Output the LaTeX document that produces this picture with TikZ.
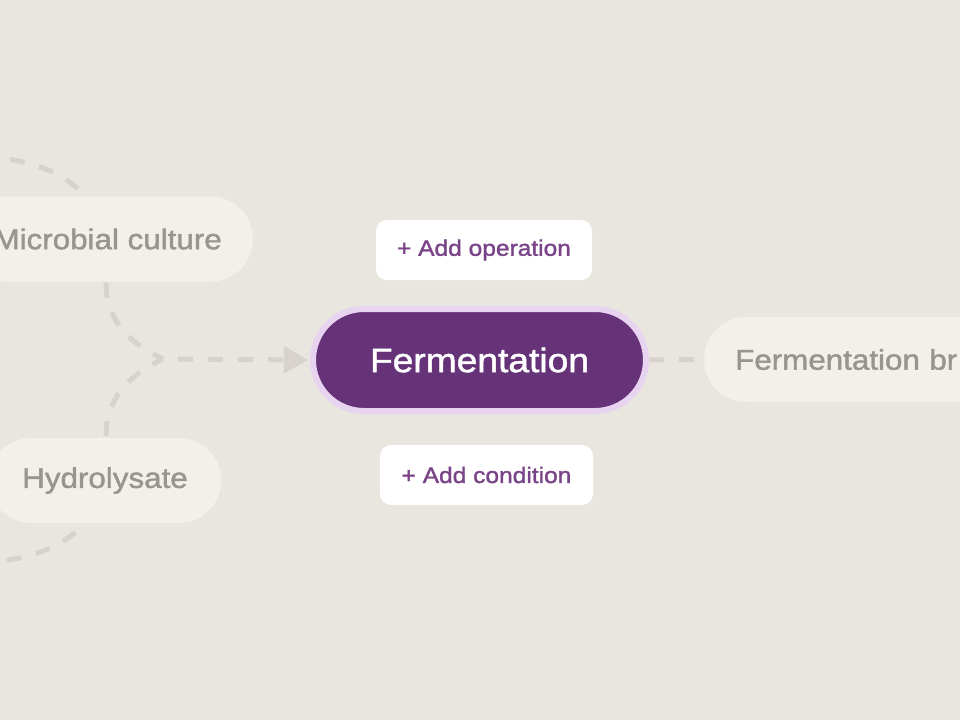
\documentclass[tikz,border=0pt]{standalone}
\usepackage{fontspec}
\newfontfamily\uifont{Liberation Sans}[FakeStretch=1.1,FakeBold=1.5]
\usetikzlibrary{arrows.meta}
\definecolor{bgc}{HTML}{E9E6E0}
\definecolor{pillc}{HTML}{F2F0EB}
\definecolor{pilltext}{HTML}{99958D}
\definecolor{dashc}{HTML}{D7D3CC}
\definecolor{purp}{HTML}{673378}
\definecolor{halo}{HTML}{E8D4F0}
\definecolor{addtext}{HTML}{7A4588}
\begin{document}
\begin{tikzpicture}[x=1pt,y=-1pt,
  conn/.style={draw=dashc, line width=5pt, dash pattern=on 15pt off 15pt},
  pill/.style={fill=pillc, rounded corners=42pt, minimum height=85pt, inner xsep=31pt,
    text=pilltext, font=\uifont\fontsize{28.5}{32}\selectfont},
  mainnode/.style={fill=purp, draw=halo, line width=6pt, rounded corners=51pt,
    minimum width=333pt, minimum height=102pt, text=white,
    font=\uifont\fontsize{33.8}{38}\selectfont},
  addbox/.style={fill=white, rounded corners=11pt, minimum height=60pt,
    text=addtext, font=\uifont\fontsize{22.3}{26}\selectfont}
]
\useasboundingbox (0,0) rectangle (960,720);
\fill[bgc] (0,0) rectangle (960,720);

% coordinates
\coordinate (j) at (163,359);
\coordinate (tl) at (-20,157);
\coordinate (bl) at (-20,562);
\coordinate (tlend) at (100,239);
\coordinate (blend) at (100,480);

% background connectors
\draw[conn] (tl) to[out=0,in=90] (tlend);
\draw[conn] (blend) to[out=-90,in=0] (bl);
\draw[conn] (106,283) to[out=-90,in=155] (j);
\draw[conn] (106,436) to[out=90,in=-155] (j);

% nodes
\node[pill, anchor=east] (mc) at (253,239) {Microbial culture};
\node[pill, minimum width=232pt] (hy) at (105,480.5) {Hydrolysate};
\node[pill, anchor=west, minimum width=360pt, text width=298pt, align=left] (fb) at (704,359.5) {Fermentation br};
\node[mainnode] (fe) at (479.5,360) {Fermentation};
\node[addbox, minimum width=216pt] (op) at (484,250) {+ Add operation};
\node[addbox, minimum width=213pt] (co) at (486.5,475) {+ Add condition};

% connectors
\draw[conn, dash phase=15pt, -{Triangle[length=24pt,width=26pt]}, shorten >=2pt] (j) -- (fe.west);
\draw[conn] (fe.east) -- (fb.west);
\end{tikzpicture}
\end{document}
